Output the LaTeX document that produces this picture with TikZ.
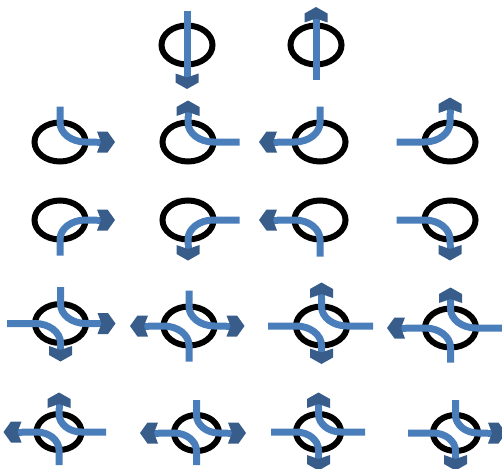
\documentclass[tikz,border=0pt]{standalone}
\usetikzlibrary{shapes.geometric}
\definecolor{stemblue}{HTML}{4A7EBB}
\definecolor{headblue}{HTML}{385D8A}
\tikzset{
  ring/.style={shape=ellipse, draw=black, line width=6pt, minimum width=51pt, minimum height=39pt, inner sep=0pt, outer sep=0pt},
  ringS/.style={ring, minimum width=45pt, minimum height=36pt},
  stem/.style={draw=stemblue, line width=7pt},
  hdH/.pic={\fill[stemblue] (-0.5,-3.5) rectangle (5,3.5);
            \fill[headblue] (0,-10.5) -- (10.5,-10.5) -- (18,0) -- (10.5,10.5) -- (0,10.5) -- (4,0) -- cycle;},
  hdV/.pic={\fill[stemblue] (-0.5,-3.5) rectangle (5,3.5);
            \fill[headblue] (0,-11.5) -- (9,-11.5) -- (15.5,0) -- (9,11.5) -- (0,11.5) -- (4,0) -- cycle;}
}
\begin{document}
\begin{tikzpicture}[x=1pt,y=-1pt]
\useasboundingbox (0,0) rectangle (502,468);
% ---------- row 1
\node[ring] (e1) at (187,45) {};
\node[ring] (e2) at (316,45) {};
\draw[stem] ([yshift=14pt]e1.north) -- ([yshift=-9pt]e1.south) coordinate (h1);
\pic[rotate=-90] at (h1) {hdV};
\draw[stem] ([yshift=-16pt]e2.south) -- ([yshift=3pt]e2.north) coordinate (h2);
\pic[rotate=90] at (h2) {hdV};
% ---------- row 2
\node[ring] (e3) at (60,142) {};
\node[ring] (e4) at (188,142) {};
\node[ring] (e5) at (320,142) {};
\node[ring] (e6) at (450,142) {};
\draw[stem] ([yshift=16pt]e3.north) -- (e3.north) .. controls +(0,10.8) and +(-14.1,0) .. (e3.east) -- ++(11.5,0) coordinate (h3);
\pic at (h3) {hdH};
\draw[stem] ([xshift=26pt]e4.east) -- (e4.east) .. controls +(-14.1,0) and +(0,10.8) .. (e4.north) -- ++(0,-6.5) coordinate (h4);
\pic[rotate=90] at (h4) {hdV};
\draw[stem] ([yshift=16pt]e5.north) -- (e5.north) .. controls +(0,10.8) and +(14.1,0) .. (e5.west) -- ++(-17.5,0) coordinate (h5);
\pic[rotate=180] at (h5) {hdH};
\draw[stem] ([xshift=-28pt]e6.west) -- (e6.west) .. controls +(14.1,0) and +(0,10.8) .. (e6.north) -- ++(0,-9.5) coordinate (h6);
\pic[rotate=90] at (h6) {hdV};
% ---------- row 3
\node[ring] (e7) at (60,220) {};
\node[ring] (e8) at (188,220) {};
\node[ring] (e9) at (320,220) {};
\node[ring] (e10) at (450,220) {};
\draw[stem] ([yshift=-16pt]e7.south) -- (e7.south) .. controls +(0,-10.8) and +(-14.1,0) .. (e7.east) -- ++(11.5,0) coordinate (h7);
\pic at (h7) {hdH};
\draw[stem] ([xshift=26pt]e8.east) -- (e8.east) .. controls +(-14.1,0) and +(0,-10.8) .. (e8.south) -- ++(0,5.5) coordinate (h8);
\pic[rotate=-90] at (h8) {hdV};
\draw[stem] ([yshift=-17pt]e9.south) -- (e9.south) .. controls +(0,-10.8) and +(14.1,0) .. (e9.west) -- ++(-17.5,0) coordinate (h9);
\pic[rotate=180] at (h9) {hdH};
\draw[stem] ([xshift=-28pt]e10.west) -- (e10.west) .. controls +(14.1,0) and +(0,-10.8) .. (e10.south) -- ++(0,5.5) coordinate (h10);
\pic[rotate=-90] at (h10) {hdV};
% ---------- row 4
\node[ring] (e11) at (60.5,323.5) {};
\node[ring] (e12) at (189,326) {};
\node[ring] (e13) at (321.5,326) {};
\node[ring] (e14) at (450.5,328) {};
\draw[stem] ([yshift=17pt]e11.north) -- (e11.north) .. controls +(0,10.8) and +(-14.1,0) .. (e11.east) -- ++(11.5,0) coordinate (h11a);
\pic at (h11a) {hdH};
\draw[stem] ([xshift=-28pt]e11.west) -- (e11.west) .. controls +(14.1,0) and +(0,-10.8) .. (e11.south) -- ++(0,3) coordinate (h11b);
\pic[rotate=-90] at (h11b) {hdV};
\draw[stem] ([yshift=16pt]e12.north) -- (e12.north) .. controls +(0,10.8) and +(-14.1,0) .. (e12.east) -- ++(12,0) coordinate (h12a);
\pic at (h12a) {hdH};
\draw[stem] ([yshift=-16pt]e12.south) -- (e12.south) .. controls +(0,-10.8) and +(14.1,0) .. (e12.west) -- ++(-15.5,0) coordinate (h12b);
\pic[rotate=180] at (h12b) {hdH};
\draw[stem] ([xshift=26pt]e13.east) -- (e13.east) .. controls +(-14.1,0) and +(0,10.8) .. (e13.north) -- ++(0,-8.5) coordinate (h13a);
\pic[rotate=90] at (h13a) {hdV};
\draw[stem] ([xshift=-28pt]e13.west) -- (e13.west) .. controls +(14.1,0) and +(0,-10.8) .. (e13.south) -- ++(0,3) coordinate (h13b);
\pic[rotate=-90] at (h13b) {hdV};
\draw[stem] ([xshift=27pt]e14.east) -- (e14.east) .. controls +(-14.1,0) and +(0,10.8) .. (e14.north) -- ++(0,-5.5) coordinate (h14a);
\pic[rotate=90] at (h14a) {hdV};
\draw[stem] ([yshift=-15pt]e14.south) -- (e14.south) .. controls +(0,-10.8) and +(14.1,0) .. (e14.west) -- ++(-20,0) coordinate (h14b);
\pic[rotate=180] at (h14b) {hdH};
% ---------- row 5
\node[ringS] (e15) at (59,432) {};
\node[ringS] (e16) at (196.5,433) {};
\node[ringS] (e17) at (318.5,432) {};
\node[ringS] (e18) at (455.5,433) {};
\draw[stem] ([xshift=24.5pt]e15.east) -- (e15.east) .. controls +(-12.4,0) and +(0,9.9) .. (e15.north) -- ++(0,-6) coordinate (h15a);
\pic[rotate=90] at (h15a) {hdV};
\draw[stem] ([yshift=-15pt]e15.south) -- (e15.south) .. controls +(0,-9.9) and +(12.4,0) .. (e15.west) -- ++(-15,0) coordinate (h15b);
\pic[rotate=180] at (h15b) {hdH};
\draw[stem] ([yshift=15pt]e16.north) -- (e16.north) .. controls +(0,9.9) and +(-12.4,0) .. (e16.east) -- ++(9,0) coordinate (h16a);
\pic at (h16a) {hdH};
\draw[stem] ([yshift=-14pt]e16.south) -- (e16.south) .. controls +(0,-9.9) and +(12.4,0) .. (e16.west) -- ++(-16,0) coordinate (h16b);
\pic[rotate=180] at (h16b) {hdH};
\draw[stem] ([xshift=24pt]e17.east) -- (e17.east) .. controls +(-12.4,0) and +(0,9.9) .. (e17.north) -- ++(0,-6) coordinate (h17a);
\pic[rotate=90] at (h17a) {hdV};
\draw[stem] ([xshift=-25pt]e17.west) -- (e17.west) .. controls +(12.4,0) and +(0,-9.9) .. (e17.south) -- ++(0,5) coordinate (h17b);
\pic[rotate=-90] at (h17b) {hdV};
\draw[stem] ([yshift=15pt]e18.north) -- (e18.north) .. controls +(0,9.9) and +(-12.4,0) .. (e18.east) -- ++(10,0) coordinate (h18a);
\pic at (h18a) {hdH};
\draw[stem] ([xshift=-25pt]e18.west) -- (e18.west) .. controls +(12.4,0) and +(0,-9.9) .. (e18.south) -- ++(0,4) coordinate (h18b);
\pic[rotate=-90] at (h18b) {hdV};
\end{tikzpicture}
\end{document}
